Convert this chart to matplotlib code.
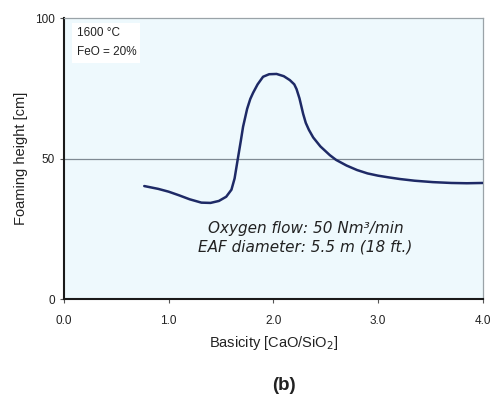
import matplotlib
matplotlib.use("Agg")
import matplotlib.pyplot as plt

basicity = [0.767, 0.9, 1.0, 1.1, 1.2, 1.313, 1.4, 1.48, 1.55, 1.6, 1.63, 1.66, 1.69,
            1.711, 1.75, 1.78, 1.807, 1.85, 1.902, 1.96, 2.031, 2.1, 2.158, 2.2, 2.222,
            2.25, 2.285, 2.31, 2.34, 2.381, 2.45, 2.54, 2.6, 2.7, 2.8, 2.9, 3.0, 3.1,
            3.21, 3.35, 3.525, 3.7, 3.85, 4.0]
foam_height = [40.3, 39.3, 38.3, 37.0, 35.6, 34.4, 34.3, 35.0, 36.5, 39.0, 43.0, 49.8, 56.5,
               61.4, 67.8, 71.3, 73.5, 76.5, 79.2, 80.1, 80.2, 79.4, 78.0, 76.5, 74.8,
               71.5, 66.0, 62.8, 60.3, 57.6, 54.4, 51.3, 49.6, 47.6, 46.0, 44.8, 44.0, 43.4,
               42.8, 42.2, 41.7, 41.4, 41.3, 41.4]
x_ticks = [0.0, 1.0, 2.0, 3.0, 4.0]
x_ticklabels = ["0.0", "1.0", "2.0", "3.0", "4.0"]
y_ticks = [0, 50, 100]

plt.rcParams['font.family'] = ['Liberation Sans Narrow', 'Liberation Sans', 'DejaVu Sans']

fig = plt.figure(figsize=(4.91, 3.98), dpi=100)
ax = fig.add_axes([0.1303, 0.248, 0.8527, 0.706])
ax.set_facecolor('#eef9fd')
ax.set_xlim(0, 4)
ax.set_ylim(0, 100)

ax.axhline(50, color='#7f8a93', lw=0.9, zorder=1)
ax.plot(basicity, foam_height, color='#1e2a66', lw=1.8, solid_capstyle='round',
        solid_joinstyle='round', zorder=3)

ax.set_xticks(x_ticks)
ax.set_xticklabels(x_ticklabels)
ax.set_yticks(y_ticks)
ax.tick_params(axis='both', labelsize=8.5, length=3, width=0.8, color='#555555',
               direction='out', labelcolor='#222222')
ax.tick_params(axis='x', pad=8)

for s in ['top', 'right']:
    ax.spines[s].set_color('#9aa3a8')
    ax.spines[s].set_linewidth(0.9)
for s in ['left', 'bottom']:
    ax.spines[s].set_color('#1a1a1a')
    ax.spines[s].set_linewidth(1.5)

ax.set_xlabel('Basicity [CaO/SiO$_2$]', fontsize=10.5, labelpad=5, color='#222222')
ax.set_ylabel('Foaming height [cm]', fontsize=10.5, labelpad=5, color='#222222')

ax.text(0.12, 96.8, '1600 °C\nFeO = 20%', fontsize=8.5, va='top', ha='left',
        linespacing=1.8, color='#222222',
        bbox=dict(facecolor='white', edgecolor='none', pad=3))
ax.text(2.306, 22, 'Oxygen flow: 50 Nm³/min\nEAF diameter: 5.5 m (18 ft.)',
        fontsize=11, style='italic', ha='center', va='center', linespacing=1.3,
        color='#222222', family=['DejaVu Sans'])

fig.text(284 / 491, 1 - 385 / 398, '(b)', fontsize=13.5, fontweight='bold', ha='center',
         va='center', color='#222222', family=['Liberation Sans', 'DejaVu Sans'])

fig.savefig('out.png', dpi=100)
